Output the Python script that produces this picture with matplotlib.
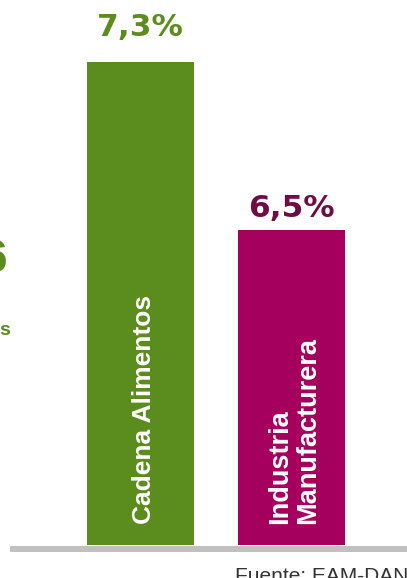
import matplotlib
matplotlib.use("Agg")
import matplotlib.pyplot as plt

# data
categories = ["Cadena Alimentos", "Industria\nManufacturera"]
values = [7.3, 6.5]
value_labels = ["7,3%", "6,5%"]
bar_colors = ["#5b8c1e", "#a5005e"]
label_colors = ["#5b8c1e", "#6e0d45"]
source = "Fuente: EAM-DANE"

W, H = 407, 578
PX_X = 150.5  # pixels per category step
PX_Y = 210.0  # pixels per percentage point
plt.rcParams["font.family"] = ["Liberation Sans", "DejaVu Sans"]

fig = plt.figure(figsize=(W / 100, H / 100), dpi=100)
ax = fig.add_axes([0, 1 - 545 / H, 1, 545 / H])
ax.set_axis_off()

xs = [0, 1]
ax.bar(xs, [v - 5.0 for v in values], bottom=5.0, width=107 / PX_X,
       color=bar_colors, edgecolor="none")
ax.set_xlim(-140.5 / PX_X, (W - 140.5) / PX_X)
ax.set_ylim(5.0, 5.0 + 545 / PX_Y)

gaps = [26, 13]
for x, v, lab, c, g in zip(xs, values, value_labels, label_colors, gaps):
    ax.text(x, v + g / PX_Y, lab, ha="center", va="baseline", fontsize=22.5,
            fontweight="bold", color=c, family="DejaVu Sans")

sizes = [19, 19.5]
for x, cat, s in zip(xs, categories, sizes):
    ax.text(x + 3 / PX_X, 5.0 + 21 / PX_Y, cat, rotation=90, ha="center",
            va="bottom", multialignment="left", fontsize=s,
            fontweight="bold", color="white", linespacing=1.12)

# baseline
ax.axhline(5.0 - 4 / PX_Y, xmin=13 / W, xmax=1, lw=4.3, color="#c0c0c0",
           clip_on=False)

# cut-off text on the left edge
fig.text(7 / W, 1 - 272 / H, "6", ha="right", va="baseline", fontsize=33,
         fontweight="bold", color="#5b8c1e")
fig.text(10 / W, 1 - 335 / H, "s", ha="right", va="baseline", fontsize=14,
         fontweight="bold", color="#5b8c1e")

fig.text(235 / W, 1 - 582 / H, source, ha="left", va="baseline",
         fontsize=15, color="#333333")

fig.savefig("out.png", dpi=100)
